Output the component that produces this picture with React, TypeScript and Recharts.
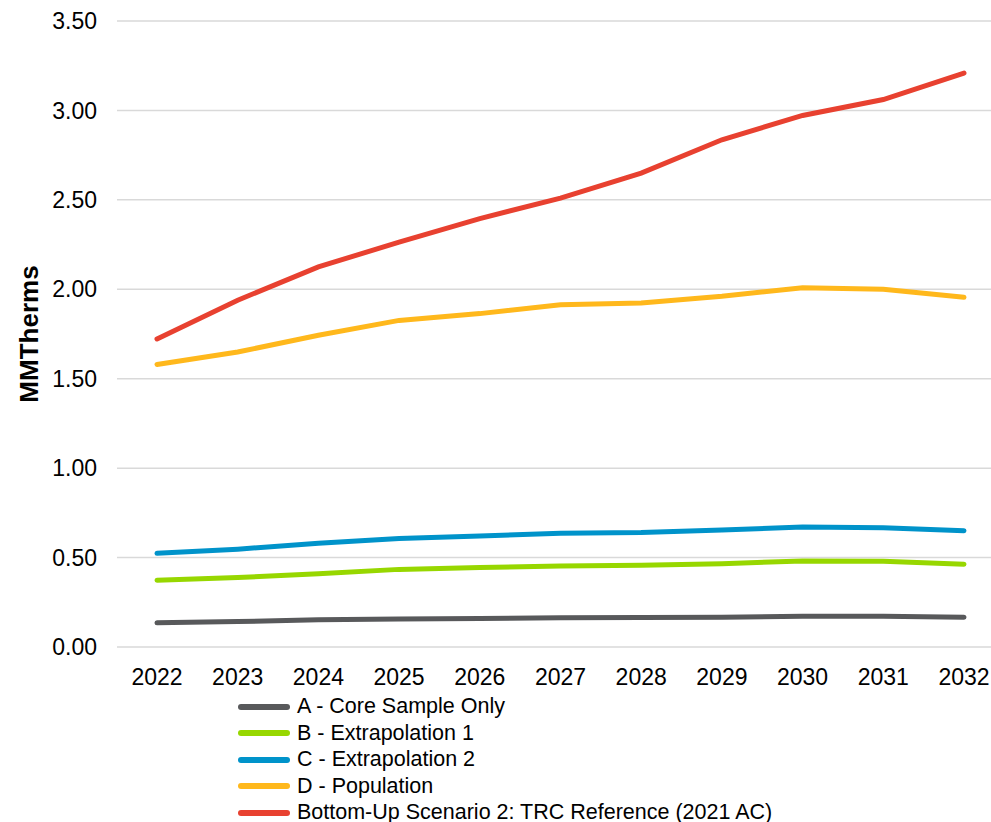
import React from "react";
import { LineChart, Line, XAxis, YAxis, CartesianGrid } from "recharts";

const years = ["2022", "2023", "2024", "2025", "2026", "2027", "2028", "2029", "2030", "2031", "2032"];

const coreSample = [0.135, 0.142, 0.152, 0.157, 0.159, 0.163, 0.165, 0.167, 0.172, 0.172, 0.167];
const extrapolation1 = [0.373, 0.388, 0.41, 0.434, 0.444, 0.453, 0.457, 0.466, 0.481, 0.479, 0.463];
const extrapolation2 = [0.524, 0.547, 0.58, 0.606, 0.62, 0.636, 0.64, 0.654, 0.671, 0.667, 0.65];
const population = [1.58, 1.649, 1.743, 1.826, 1.864, 1.914, 1.924, 1.961, 2.009, 2.0, 1.955];
const trcReference = [1.722, 1.939, 2.125, 2.264, 2.395, 2.51, 2.65, 2.836, 2.972, 3.061, 3.209];

const yTicks = [0, 0.5, 1, 1.5, 2, 2.5, 3, 3.5];

const series = [
  { key: "a", name: "A - Core Sample Only", color: "#58595B", values: coreSample },
  { key: "b", name: "B - Extrapolation 1", color: "#97D700", values: extrapolation1 },
  { key: "c", name: "C - Extrapolation 2", color: "#0093CA", values: extrapolation2 },
  { key: "d", name: "D - Population", color: "#FFB81C", values: population },
  { key: "e", name: "Bottom-Up Scenario 2: TRC Reference (2021 AC)", color: "#E84130", values: trcReference },
];

const data = years.map((year, i) => {
  const row: any = { year };
  series.forEach((s) => {
    row[s.key] = s.values[i];
  });
  return row;
});

const FONT = "'Liberation Sans', Arial, sans-serif";

// legend sits under the plot, one entry per row
const LegendList = () => (
  <div
    style={{
      position: "absolute",
      left: 238,
      top: 693.5,
      fontFamily: FONT,
      fontSize: 21.5,
      color: "#000",
    }}
  >
    {series.map((s) => (
      <div key={s.key} style={{ display: "flex", alignItems: "center", height: 26.5, whiteSpace: "nowrap" }}>
        <div
          style={{
            width: 52,
            height: 6,
            borderRadius: 3,
            background: s.color,
            marginRight: 7,
          }}
        />
        <span>{s.name}</span>
      </div>
    ))}
  </div>
);

export default function App() {
  return (
    <div style={{ position: "relative", width: 991, height: 822, overflow: "hidden", background: "#fff" }}>
      <style>{"html, body { overflow: hidden; margin: 0; }"}</style>
      <div style={{ position: "absolute", left: 8, top: 8 }}>
        <LineChart
          width={983}
          height={814}
          data={data}
          margin={{ top: 13, right: 0, bottom: 145, left: 0 }}
        >
          <CartesianGrid vertical={false} stroke="#d9d9d9" strokeWidth={1.5} />
          <XAxis
            dataKey="year"
            height={30}
            padding={{ left: 40, right: 27 }}
            axisLine={false}
            tickLine={false}
            tickMargin={16}
            interval={0}
            tick={{ fill: "#000", fontSize: 23, fontFamily: FONT }}
          />
          <YAxis
            width={109}
            domain={[0, 3.5]}
            ticks={yTicks}
            interval={0}
            axisLine={false}
            tickLine={false}
            tickMargin={14}
            tickFormatter={(v: number) => v.toFixed(2)}
            tick={{ fill: "#000", fontSize: 23, fontFamily: FONT }}
            label={{
              value: "MMTherms",
              angle: -90,
              position: "insideLeft",
              offset: 21,
              style: { fill: "#000", fontSize: 26, fontWeight: "bold", fontFamily: FONT, textAnchor: "middle" },
            }}
          />
          {series.map((s) => (
            <Line
              key={s.key}
              dataKey={s.key}
              name={s.name}
              stroke={s.color}
              strokeWidth={5}
              strokeLinecap="round"
              dot={false}
              activeDot={false}
              isAnimationActive={false}
            />
          ))}
        </LineChart>
      </div>
      <LegendList />
    </div>
  );
}
